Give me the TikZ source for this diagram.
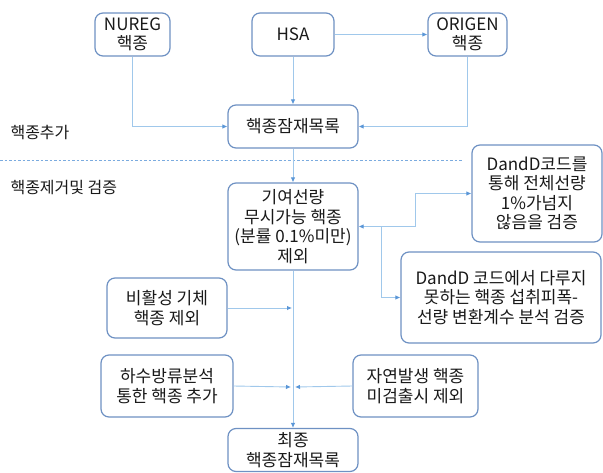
\documentclass[tikz,border=0pt]{standalone}
\usepackage{fontspec}
\setmainfont{Noto Sans CJK KR}
\usepackage{xcolor}
\usetikzlibrary{arrows.meta}
\definecolor{boxline}{RGB}{110,145,195}
\definecolor{wireblue}{RGB}{160,200,235}
\definecolor{tipblue}{RGB}{90,150,215}
\definecolor{inkgray}{RGB}{25,25,25}

\tikzset{
	stage/.style={fill=white, draw=boxline, line width=1.2pt, rounded corners=8pt, align=center, text=inkgray, inner sep=2pt, font=\fontsize{17}{19.5}\selectfont},
	wire/.style={draw=wireblue, line width=0.9pt, -{Latex[length=5pt,width=4.5pt,color=tipblue]}},
	sepline/.style={draw=tipblue!80, line width=0.9pt, dash pattern=on 2.5pt off 2pt},
	phase/.style={anchor=west, text=inkgray, font=\fontsize{16}{19}\selectfont}
}

\begin{document}
\begin{tikzpicture}[yscale=-1, x=1pt, y=1pt]
	\useasboundingbox (0,0) rectangle (603,472);
	
	\node [stage, minimum width=75pt, minimum height=43pt] (nureg) at (132.5, 34.5) {NUREG\\핵종};
	\node [stage, minimum width=82pt, minimum height=43pt] (hsa) at (293, 34.5) {HSA};
	\node [stage, minimum width=79pt, minimum height=43pt] (origen) at (467.5, 34.5) {ORIGEN\\핵종};
	
	\node [stage, minimum width=130pt, minimum height=43pt] (pool) at (293, 126.5) {핵종잠재목록};
	\node [stage, minimum width=130pt, minimum height=87pt] (neglig) at (293, 226.5) {기여선량\\무시가능 핵종\\(분률 0.1\%미만)\\제외};
	
	\node [stage, minimum width=130pt, minimum height=97pt] (dandda) at (537, 193.5) {DandD코드를\\통해 전체선량\\1\%가넘지\\않음을 검증};
	\node [stage, minimum width=200pt, minimum height=91pt] (danddb) at (501, 297.5) {DandD 코드에서 다루지\\못하는 핵종 섭취피폭-\\선량 변환계수 분석 검증};
	
	\node [stage, minimum width=120pt, minimum height=60pt] (inert) at (167, 308) {비활성 기체\\핵종 제외};
	\node [stage, minimum width=132pt, minimum height=62pt] (sewer) at (167, 386) {하수방류분석\\통한 핵종 추가};
	\node [stage, minimum width=125pt, minimum height=62pt] (natural) at (415.5, 386) {자연발생 핵종\\미검출시 제외};
	
	\node [stage, minimum width=130pt, minimum height=43pt] (final) at (293, 450) {최종\\핵종잠재목록};
	
	\node [phase] (addlab) at (7, 133) {핵종추가};
	\node [phase] (cutlab) at (7, 188) {핵종제거및 검증};
	
	\coordinate (sepl) at (0, 160);
	\coordinate (sepr) at (462, 160);
	\coordinate (mainone) at (292, 308);
	\coordinate (maintwo) at (291, 387);
	\coordinate (maintwor) at (295, 387);
	\coordinate (forkin) at (381, 226.5);
	\coordinate (forkout) at (415, 226.5);
	
	\draw [sepline] (sepl) -- (sepr);
	
	\draw [wire] (hsa) to (origen);
	\draw [wire] (hsa) to (pool);
	\draw [wire] (nureg.south) |- (pool.west);
	\draw [wire] (origen.south) |- (pool.east);
	
	\draw [wire] (pool) to (neglig);
	\draw [wire] (neglig) to (final);
	\draw [wire] (inert.east) to (mainone);
	\draw [wire] (sewer.east) to (maintwo);
	\draw [wire] (natural.west) to (maintwor);
	
	\draw [wire] (forkout) to (neglig.east);
	\draw [wire] (forkout) |- (dandda.west);
	\draw [wire] (forkin) |- (danddb.west);
	
\end{tikzpicture}
\end{document}
